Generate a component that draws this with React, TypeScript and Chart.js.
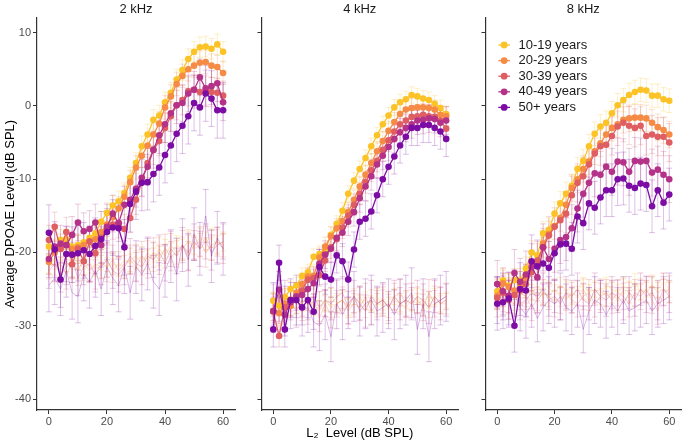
import React, { useEffect, useRef } from 'react';
import { Chart, registerables } from 'chart.js';

Chart.register(...registerables);

const FONT = "'Liberation Sans', Arial, Helvetica, sans-serif";

const L2_LEVELS = [0, 2, 4, 6, 8, 10, 12, 14, 16, 18, 20, 22, 24, 26, 28, 30, 32, 34, 36, 38, 40, 42, 44, 46, 48, 50, 52, 54, 56, 58, 60];
const AGE_GROUPS = ['10-19 years', '20-29 years', '30-39 years', '40-49 years', '50+ years'];
const GROUP_RGB = ['252,195,38', '245,139,69', '222,94,98', '181,50,137', '124,12,164'];
const PANEL_TITLES = ['2 kHz', '4 kHz', '8 kHz'];
const Y_TICKS = [-40, -30, -20, -10, 0, 10];
const X_TICKS = [0, 20, 40, 60];
const Y_TITLE = 'Average DPOAE Level (dB SPL)';
const X_TITLE = 'L\u2082  Level (dB SPL)';

// ---- 2 kHz DPOAE levels (per age group) ----
const DP2K_10_19 = [-19.2, -19.6, -18.3, -18.2, -19.2, -19.0, -18.6, -18.0, -17.4, -15.8, -14.6, -13.6, -13.0, -11.9, -9.8, -7.8, -5.5, -3.9, -1.9, -1.3, 0.5, 1.8, 3.6, 4.9, 6.4, 7.4, 8.0, 8.1, 7.8, 8.4, 7.4];
const DP2K_20_29 = [-21.3, -20.0, -19.5, -19.0, -19.5, -19.3, -19.0, -18.5, -18.2, -17.2, -16.2, -15.2, -14.0, -12.4, -10.4, -8.4, -6.8, -5.4, -3.9, -2.4, -0.2, 1.3, 3.0, 4.1, 5.0, 5.5, 5.9, 6.0, 5.5, 5.3, 4.5];
const DP2K_30_39 = [-18.3, -16.5, -19.5, -17.2, -21.6, -19.5, -21.2, -18.5, -20.1, -18.0, -16.8, -16.2, -16.0, -16.8, -15.3, -12.8, -10.4, -7.8, -6.0, -4.8, -3.0, -1.4, 0.1, 0.8, 2.0, 2.2, 1.9, 2.1, 1.9, 1.8, 1.4];
const DP2K_40_49 = [-20.9, -19.2, -18.8, -19.0, -17.6, -15.9, -17.1, -16.8, -15.9, -19.0, -16.5, -14.7, -16.0, -13.5, -12.8, -11.3, -9.8, -8.3, -6.0, -4.0, -2.5, -1.0, 0.1, 0.4, 1.7, 2.2, 3.9, 2.4, 2.7, 3.1, 0.5];
const DP2K_50P = [-17.3, -19.6, -23.7, -20.2, -20.3, -20.1, -19.7, -20.2, -19.1, -18.2, -17.2, -16.6, -16.7, -19.3, -13.4, -11.7, -10.5, -10.4, -9.3, -8.4, -6.7, -5.4, -3.8, -2.7, -1.4, 0.4, -0.2, 1.7, 1.0, -0.6, -0.6];

// ---- 4 kHz DPOAE levels ----
const DP4K_10_19 = [-26.6, -27.3, -26.1, -25.0, -24.5, -23.2, -22.7, -20.6, -20.2, -19.7, -17.6, -16.1, -14.3, -12.0, -10.2, -8.6, -7.1, -5.5, -4.0, -2.5, -1.3, -0.2, 0.5, 0.9, 1.5, 1.3, 1.0, 0.8, 0.3, -0.3, -1.1];
const DP4K_20_29 = [-28.0, -28.3, -27.0, -27.3, -25.5, -24.3, -23.3, -23.2, -20.7, -19.2, -17.8, -16.7, -15.7, -14.5, -12.8, -11.0, -9.4, -7.8, -6.2, -4.8, -3.4, -2.2, -1.1, -0.5, -0.3, -0.2, -0.2, -0.3, -0.5, -1.2, -1.4];
const DP4K_30_39 = [-28.1, -31.4, -27.5, -26.5, -26.0, -25.2, -23.7, -23.5, -23.1, -21.1, -19.3, -18.2, -16.6, -15.0, -13.5, -12.0, -10.4, -8.8, -7.5, -6.0, -4.7, -3.5, -2.5, -2.0, -1.5, -1.4, -1.2, -1.4, -1.5, -2.0, -3.1];
const DP4K_40_49 = [-28.0, -25.1, -28.5, -26.8, -26.0, -25.8, -25.0, -24.2, -21.5, -20.3, -19.5, -18.0, -17.3, -15.8, -14.5, -12.6, -11.0, -9.6, -8.0, -6.8, -5.6, -4.5, -3.6, -3.0, -2.5, -2.0, -1.9, -1.7, -1.8, -2.3, -2.0];
const DP4K_50P = [-30.5, -21.4, -30.5, -26.5, -26.5, -27.5, -26.5, -28.1, -22.0, -23.3, -23.7, -20.4, -21.2, -23.7, -19.6, -15.8, -15.4, -14.4, -12.2, -10.0, -8.3, -6.9, -5.4, -4.2, -3.0, -3.0, -2.6, -2.6, -3.0, -3.5, -4.5];

// ---- 8 kHz DPOAE levels ----
const DP8K_10_19 = [-25.3, -23.8, -24.5, -23.8, -23.8, -22.2, -20.0, -20.4, -17.4, -16.9, -14.7, -13.3, -12.0, -10.9, -8.6, -7.5, -5.5, -3.8, -2.8, -2.3, -1.0, 0.1, 0.8, 1.5, 1.9, 2.2, 2.1, 1.4, 1.4, 0.9, 0.7];
const DP8K_20_29 = [-25.9, -24.2, -24.7, -25.2, -24.4, -23.6, -21.5, -21.8, -18.8, -17.5, -16.4, -15.3, -13.5, -11.2, -10.0, -8.6, -7.6, -6.2, -5.1, -3.9, -3.0, -2.5, -1.9, -1.7, -1.6, -1.6, -1.7, -2.3, -2.9, -3.3, -3.9];
const DP8K_30_39 = [-26.2, -25.5, -26.5, -25.8, -25.2, -24.3, -22.7, -21.1, -19.3, -17.7, -16.5, -15.6, -14.7, -12.2, -10.5, -9.6, -8.0, -6.5, -5.5, -5.3, -4.1, -2.8, -2.3, -2.7, -3.0, -2.7, -4.1, -3.9, -4.2, -4.2, -5.0];
const DP8K_40_49 = [-24.3, -25.3, -25.9, -22.8, -24.0, -23.0, -22.0, -23.4, -19.3, -20.9, -19.5, -18.3, -17.9, -16.7, -14.0, -12.0, -10.5, -9.2, -9.4, -8.3, -9.0, -7.6, -7.7, -9.0, -7.5, -7.6, -7.5, -9.1, -8.7, -9.4, -10.0];
const DP8K_50P = [-27.0, -26.8, -26.3, -30.0, -25.0, -25.2, -21.2, -21.9, -21.5, -22.1, -20.1, -18.9, -18.8, -19.5, -15.1, -16.0, -13.3, -13.9, -12.5, -11.5, -11.5, -10.0, -9.9, -10.9, -11.2, -10.6, -10.8, -13.7, -11.5, -13.2, -12.1];

// ---- noise floors ----
const NF2K_10_19 = [-21.5, -21, -22, -21.5, -22, -21, -22.5, -21.5, -22, -21, -22, -21.5, -22, -21, -21.5, -21, -20.5, -21, -20, -20.5, -19.5, -20, -19, -19.5, -18.5, -19, -18, -18.5, -18, -19, -18.5];
const NF2K_20_29 = [-22, -21.5, -22.5, -21, -22.5, -22, -21.5, -22.5, -21.5, -22, -21, -22.5, -21.5, -22, -21, -20.5, -21.5, -20, -21, -19.5, -20.5, -19, -20, -19.5, -18.5, -19.5, -19, -18, -19.5, -18.5, -19];
const NF2K_30_39 = [-21, -22, -21.5, -23, -21.5, -22.5, -21, -22, -23, -21.5, -22, -21, -22.5, -21.5, -21, -22, -20.5, -21.5, -20, -21, -19.5, -20.5, -20, -19, -20.5, -19, -18.5, -20, -19, -18.5, -19.5];
const NF2K_40_49 = [-22.5, -21.5, -23, -22, -21, -23.5, -22, -21.5, -23, -22, -21, -22.5, -23, -22, -20.5, -21.5, -22, -20.5, -21, -20, -21.5, -19.5, -20.5, -19, -20, -18.5, -19.5, -18.5, -20, -19, -18.5];
const NF2K_50P = [-24.5, -23.5, -25, -22.5, -25.5, -26.0, -23, -24, -22.5, -25, -22, -23.5, -24.5, -22, -25.5, -22, -23, -21.5, -24, -25, -22.5, -20.5, -23, -19, -21, -17.5, -19.5, -15, -20.5, -18, -19.5];

const NF4K_10_19 = [-26.5, -27, -26, -27.5, -26.5, -27, -26, -27.5, -26.5, -27, -26, -27, -26.5, -27.5, -26, -27, -26.5, -27, -26, -27.5, -26.5, -26, -27, -26.5, -27, -26, -27.5, -26.5, -26, -27, -26.5];
const NF4K_20_29 = [-27, -26.5, -27.5, -26, -27, -27.5, -26.5, -27, -28, -26.5, -27.5, -27, -26.5, -27.5, -27, -26, -27.5, -26.5, -27, -26.5, -27.5, -26.5, -27, -27.5, -26.5, -27, -26.5, -27.5, -26, -27, -27];
const NF4K_30_39 = [-27.5, -26.5, -28, -27, -26.5, -27.5, -28, -26.5, -29, -27, -28.5, -27, -26.5, -28, -27, -27.5, -26, -28, -27, -26.5, -27.5, -26, -25.5, -27, -26, -26.5, -27.5, -25.5, -27, -26.5, -26];
const NF4K_40_49 = [-26.5, -27.5, -26, -27, -28, -26.5, -27, -26, -27.5, -26.5, -27, -26, -25.5, -27.5, -26, -27, -28, -26, -27, -26.5, -27.5, -26, -27, -26.5, -27, -26, -26.5, -27.5, -26, -27, -26.5];
const NF4K_50P = [-27.5, -26, -28, -27, -26.5, -28, -27.5, -29.5, -30, -28.5, -31.5, -27, -28.5, -27, -26, -28, -27, -26.5, -28, -27.5, -27, -28.5, -27, -26.5, -25.5, -30.5, -27, -31.5, -27, -26.5, -26];

const NF8K_10_19 = [-25, -25.5, -24.5, -25, -26, -25, -25.5, -24.5, -26, -25, -25.5, -24.5, -25, -26, -25, -24.5, -25.5, -25, -26, -24.5, -25, -25.5, -24.5, -25, -24, -25.5, -25, -24.5, -25, -24, -25];
const NF8K_20_29 = [-25.5, -26, -25, -26.5, -25.5, -26, -25, -26.5, -25.5, -26, -25, -26, -26.5, -25.5, -26, -25, -26.5, -25.5, -25, -26, -25.5, -26.5, -25, -25.5, -26, -25, -25.5, -24.5, -25.5, -25, -25.5];
const NF8K_30_39 = [-26, -25.5, -26.5, -27, -25.5, -26, -27.5, -26.5, -25.5, -26, -27, -26.5, -25.5, -26.5, -27, -26, -25.5, -27, -26, -25.5, -26.5, -25.5, -26, -27, -25.5, -26, -25, -26.5, -28, -25.5, -25];
const NF8K_40_49 = [-25.5, -26.5, -26, -25, -27, -26.5, -25.5, -26, -25, -26.5, -26, -27, -25.5, -26, -25, -26.5, -27, -25, -26, -26.5, -25.5, -26, -27, -25.5, -26.5, -25, -26, -25.5, -27, -25, -26];
const NF8K_50P = [-26.5, -26, -27, -25.5, -27.5, -28.5, -27, -29, -27.5, -26.5, -27, -26, -27.5, -28, -27, -30.5, -28, -26.5, -27, -28.5, -27, -28, -26.5, -28, -27.5, -27, -26.5, -28, -27, -26.5, -26];

// ---- error-bar half widths (per age group) ----
const DP_ERR_2K = [1.4, 1.6, 2.0, 2.5, 3.8];
const DP_ERR_4K = [1.1, 1.3, 1.5, 1.9, 2.4];
const DP_ERR_8K = [1.6, 1.8, 2.6, 3.2, 3.6];
const NF_ERR_2K = [1.3, 1.6, 2.0, 2.4, 3.6];
const NF_ERR_4K = [1.1, 1.4, 1.8, 2.2, 3.4];
const NF_ERR_8K = [1.1, 1.4, 1.8, 2.2, 3.2];

const DP = [
  [DP2K_10_19, DP2K_20_29, DP2K_30_39, DP2K_40_49, DP2K_50P],
  [DP4K_10_19, DP4K_20_29, DP4K_30_39, DP4K_40_49, DP4K_50P],
  [DP8K_10_19, DP8K_20_29, DP8K_30_39, DP8K_40_49, DP8K_50P],
];
const NF = [
  [NF2K_10_19, NF2K_20_29, NF2K_30_39, NF2K_40_49, NF2K_50P],
  [NF4K_10_19, NF4K_20_29, NF4K_30_39, NF4K_40_49, NF4K_50P],
  [NF8K_10_19, NF8K_20_29, NF8K_30_39, NF8K_40_49, NF8K_50P],
];
const DP_ERR = [DP_ERR_2K, DP_ERR_4K, DP_ERR_8K];
const NF_ERR = [NF_ERR_2K, NF_ERR_4K, NF_ERR_8K];

// layout of the three panels (canvas left, canvas width, y-axis width, right padding)
const CANVAS_LEFT = [0, 240, 462];
const CANVAS_WIDTH = [240, 222, 223];
const Y_AXIS_WIDTH = [37, 21.5, 23.5];
const RIGHT_PAD = [5, 2.5, 1.5];
const H = 443;

const errorBarPlugin = {
  id: 'errorBars',
  beforeDatasetsDraw(chart: any) {
    const { ctx, chartArea } = chart;
    const xs = chart.scales.x;
    const ys = chart.scales.y;
    ctx.save();
    ctx.beginPath();
    ctx.rect(chartArea.left, chartArea.top, chartArea.right - chartArea.left, chartArea.bottom - chartArea.top);
    ctx.clip();
    const sets = chart.data.datasets.slice().sort((a: any, b: any) => b.order - a.order);
    sets.forEach((ds: any) => {
      if (ds.errHalf == null) return;
      ctx.strokeStyle = ds.errColor;
      ctx.lineWidth = 1;
      ds.data.forEach((p: any) => {
        const x = xs.getPixelForValue(p.x);
        const y1 = ys.getPixelForValue(p.y - ds.errHalf);
        const y2 = ys.getPixelForValue(p.y + ds.errHalf);
        ctx.beginPath();
        ctx.moveTo(x, y1);
        ctx.lineTo(x, y2);
        ctx.moveTo(x - 3, y1);
        ctx.lineTo(x + 3, y1);
        ctx.moveTo(x - 3, y2);
        ctx.lineTo(x + 3, y2);
        ctx.stroke();
      });
    });
    ctx.restore();
  },
};

const panelTitlePlugin = {
  id: 'panelTitle',
  afterDraw(chart: any, _args: any, opts: any) {
    if (!opts || !opts.text) return;
    const { ctx, chartArea } = chart;
    ctx.save();
    ctx.font = `13px ${FONT}`;
    ctx.fillStyle = '#1A1A1A';
    ctx.textAlign = 'center';
    ctx.textBaseline = 'alphabetic';
    ctx.fillText(opts.text, (chartArea.left + chartArea.right) / 2, 12.5);
    ctx.restore();
  },
};

const insideLegendPlugin = {
  id: 'insideLegend',
  afterDraw(chart: any, _args: any, opts: any) {
    if (!opts || !opts.show) return;
    const { ctx, chartArea } = chart;
    ctx.save();
    ctx.font = `13px ${FONT}`;
    ctx.textBaseline = 'middle';
    ctx.textAlign = 'left';
    AGE_GROUPS.forEach((g, i) => {
      const y = chartArea.top + 27 + i * 15.6;
      const x0 = chartArea.left + 12.8;
      const col = `rgb(${GROUP_RGB[i]})`;
      ctx.strokeStyle = col;
      ctx.lineWidth = 1.3;
      ctx.beginPath();
      ctx.moveTo(x0, y);
      ctx.lineTo(x0 + 11.7, y);
      ctx.stroke();
      ctx.fillStyle = col;
      ctx.beginPath();
      ctx.arc(x0 + 5.85, y, 3.4, 0, Math.PI * 2);
      ctx.fill();
      ctx.fillStyle = '#1A1A1A';
      ctx.fillText(g, chartArea.left + 33, y);
    });
    ctx.restore();
  },
};

function makeConfig(p: number): any {
  const datasets: any[] = [];
  AGE_GROUPS.forEach((g, i) => {
    datasets.push({
      label: g + ' noise floor',
      data: L2_LEVELS.map((x, k) => ({ x, y: NF[p][i][k] })),
      borderColor: `rgba(${GROUP_RGB[i]},0.28)`,
      backgroundColor: `rgba(${GROUP_RGB[i]},0.28)`,
      borderWidth: 1,
      pointRadius: 0,
      tension: 0,
      order: 20 - i,
      errHalf: NF_ERR[p][i],
      errColor: `rgba(${GROUP_RGB[i]},0.25)`,
    });
  });
  AGE_GROUPS.forEach((g, i) => {
    datasets.push({
      label: g,
      data: L2_LEVELS.map((x, k) => ({ x, y: DP[p][i][k] })),
      borderColor: `rgb(${GROUP_RGB[i]})`,
      backgroundColor: `rgb(${GROUP_RGB[i]})`,
      pointBackgroundColor: `rgb(${GROUP_RGB[i]})`,
      pointBorderWidth: 0,
      pointRadius: 3.3,
      borderWidth: 1.3,
      tension: 0,
      order: 5 - i,
      errHalf: DP_ERR[p][i],
      errColor: `rgba(${GROUP_RGB[i]},0.25)`,
    });
  });

  const tickFont = { family: FONT, size: 11 };
  const titleFont = { family: FONT, size: 13 };

  return {
    type: 'line',
    data: { datasets },
    plugins: [errorBarPlugin, panelTitlePlugin, insideLegendPlugin],
    options: {
      responsive: false,
      maintainAspectRatio: false,
      animation: false,
      devicePixelRatio: 1,
      events: [],
      layout: { padding: { top: 18, right: RIGHT_PAD[p], left: 0, bottom: 0 } },
      plugins: {
        legend: { display: false },
        tooltip: { enabled: false },
        title: { display: false },
        panelTitle: { text: PANEL_TITLES[p] },
        insideLegend: { show: p === 2 },
      },
      scales: {
        x: {
          type: 'linear',
          min: -4.1,
          max: 64.1,
          afterBuildTicks: (s: any) => {
            s.ticks = X_TICKS.map((v) => ({ value: v }));
          },
          afterFit: (s: any) => {
            s.height = 33;
          },
          ticks: { color: '#4D4D4D', font: tickFont, padding: 1, maxRotation: 0, autoSkip: false },
          grid: { display: true, drawOnChartArea: false, drawTicks: true, tickLength: 4, color: '#333333', lineWidth: 1 },
          border: { display: true, color: '#333333', width: 1.2 },
          title: {
            display: p === 1,
            text: X_TITLE,
            color: '#000000',
            font: titleFont,
            padding: { top: 0, bottom: 2 },
          },
        },
        y: {
          type: 'linear',
          min: -41.5,
          max: 12,
          afterBuildTicks: (s: any) => {
            s.ticks = Y_TICKS.map((v) => ({ value: v }));
          },
          afterFit: (s: any) => {
            s.width = Y_AXIS_WIDTH[p];
          },
          ticks: {
            color: p === 0 ? '#4D4D4D' : 'rgba(0,0,0,0)',
            font: tickFont,
            padding: 2,
            autoSkip: false,
          },
          grid: { display: true, drawOnChartArea: false, drawTicks: true, tickLength: 4, color: '#333333', lineWidth: 1 },
          border: { display: true, color: '#333333', width: 1.2 },
          title: {
            display: p === 0,
            text: Y_TITLE,
            color: '#000000',
            font: titleFont,
            padding: { top: 3, bottom: 0 },
          },
        },
      },
    },
  };
}

export default function App() {
  const ref0 = useRef<HTMLCanvasElement>(null);
  const ref1 = useRef<HTMLCanvasElement>(null);
  const ref2 = useRef<HTMLCanvasElement>(null);

  useEffect(() => {
    const canvases = [ref0.current, ref1.current, ref2.current];
    const charts = canvases.map((c, i) => new Chart(c as HTMLCanvasElement, makeConfig(i)));
    return () => charts.forEach((ch) => ch.destroy());
  }, []);

  const refs = [ref0, ref1, ref2];
  return (
    <div style={{ position: 'fixed', left: 0, top: 0, width: 685, height: H, background: '#ffffff' }}>
      {refs.map((r, i) => (
        <canvas
          key={i}
          ref={r}
          width={CANVAS_WIDTH[i]}
          height={H}
          style={{ position: 'absolute', left: CANVAS_LEFT[i], top: 0, width: CANVAS_WIDTH[i], height: H }}
        />
      ))}
    </div>
  );
}
